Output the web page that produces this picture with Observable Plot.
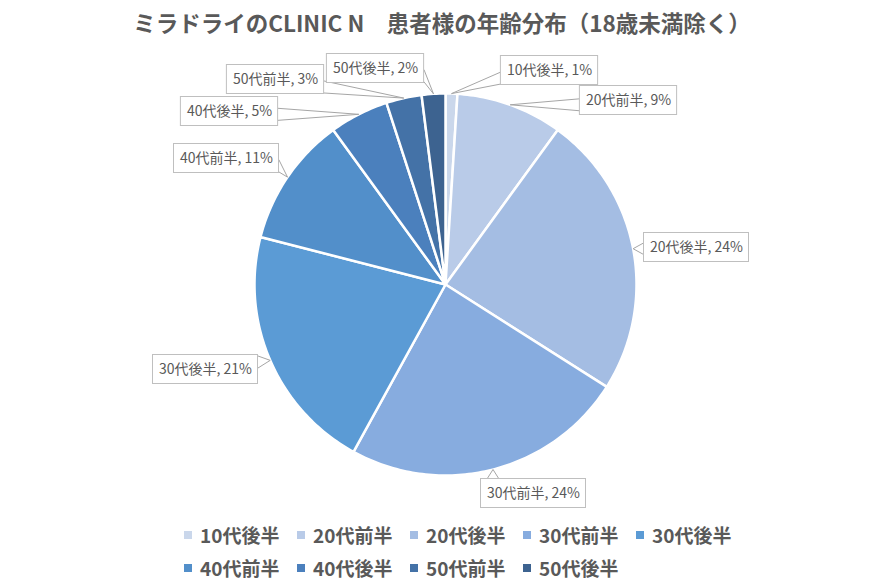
<!DOCTYPE html>
<html><head><meta charset="utf-8">
<script src="https://cdn.jsdelivr.net/npm/d3@7"></script>
<script src="https://cdn.jsdelivr.net/npm/@observablehq/plot@0.6"></script>
<style>
body{margin:0;background:#fff;font-family:'Noto Sans CJK JP',sans-serif;}
#wrap{position:relative;width:884px;height:588px;overflow:hidden;}
#title{position:absolute;top:0;left:0;width:884px;height:45px;line-height:45px;text-align:center;font-size:22.5px;font-weight:bold;color:#595959;white-space:pre;}
#chart{position:absolute;top:45px;left:0;}
#legend{position:absolute;top:518px;left:184px;width:580px;}
#legend .lg-swatches{display:flex !important;flex-wrap:wrap !important;min-height:0 !important;margin:0 !important;}
#legend .lg-swatch{width:113px !important;height:33px !important;margin:0 !important;display:inline-flex !important;align-items:center !important;font-size:19px !important;font-weight:bold !important;color:#595959 !important;font-family:'Noto Sans CJK JP',sans-serif !important;}
#legend .lg-swatch svg{margin-right:8px !important;}
</style></head>
<body><div id="wrap"><div id="title">ミラドライのCLINIC N　患者様の年齢分布（18歳未満除く）</div><div id="chart"></div><div id="legend"></div></div>
<script>
const categories = ["10代後半","20代前半","20代後半","30代前半","30代後半","40代前半","40代後半","50代前半","50代後半"];
const values = [1, 9, 24, 24, 21, 11, 5, 3, 2];
const colors = ["#cad7eb","#b9cbe8","#a4bde3","#87acdf","#5b9bd5","#528fca","#4b80bd","#4472a7","#3d6390"];

// layout (pixels relative to pie center)
const R = 191, W = 884, H = 470, CX = 445, CY = 239;
const labelOffset = [[104,-214],[183,-184],[251,-37],[88,209],[-240,85],[-219,-126],[-216,-173],[-170,-205],[-70,-216]];
const BOX_H = 29, PAD = 6, FONT = "14px 'Noto Sans CJK JP'";

const total = d3.sum(values);
const ctx = document.createElement("canvas").getContext("2d");
ctx.font = FONT;

// slice polygons
const slicePts = [];
let cum = 0;
const mids = [];
values.forEach((v, i) => {
  const a0 = cum / total * 2 * Math.PI;
  cum += v;
  const a1 = cum / total * 2 * Math.PI;
  mids.push((a0 + a1) / 2);
  const n = Math.max(2, Math.ceil((a1 - a0) / (Math.PI / 180)));
  slicePts.push({cat: categories[i], x: 0, y: 0});
  for (let k = 0; k <= n; k++) {
    const a = a0 + (a1 - a0) * k / n;
    slicePts.push({cat: categories[i], x: Math.sin(a), y: Math.cos(a)});
  }
  slicePts.push({cat: categories[i], x: 0, y: 0});
});

// labels, boxes, wedges
const labels = [], boxes = [], wedges = [];
categories.forEach((c, i) => {
  const text = `${c}, ${values[i]}%`;
  const w = ctx.measureText(text).width + 2 * PAD;
  const [lx, ly] = labelOffset[i];
  const x1 = lx - w / 2, x2 = lx + w / 2, y1 = ly - BOX_H / 2, y2 = ly + BOX_H / 2;
  const px = Math.sin(mids[i]) * R, py = -Math.cos(mids[i]) * R;
  const cl = (v, a, b) => Math.max(a, Math.min(b, v));
  let b1, b2;
  if (px < x1) { const cy = cl(py, y1 + 7, y2 - 7); b1 = [x1, cy - 6]; b2 = [x1, cy + 6]; }
  else if (px > x2) { const cy = cl(py, y1 + 7, y2 - 7); b1 = [x2, cy - 6]; b2 = [x2, cy + 6]; }
  else if (py > y2) { const cx = cl(px, x1 + 8, x2 - 8); b1 = [cx - 6, y2]; b2 = [cx + 6, y2]; }
  else { const cx = cl(px, x1 + 8, x2 - 8); b1 = [cx - 6, y1]; b2 = [cx + 6, y1]; }
  [b1, [px, py], b2].forEach(p => wedges.push({id: i, x: p[0] / R, y: -p[1] / R}));
  boxes.push({x1: x1 / R, x2: x2 / R, y1: -y1 / R, y2: -y2 / R});
  labels.push({x: lx / R, y: -ly / R, text});
});

const chart = Plot.plot({
  width: W, height: H, margin: 0,
  style: {fontFamily: "'Noto Sans CJK JP', sans-serif", background: "white"},
  x: {domain: [-CX / R, (W - CX) / R], axis: null},
  y: {domain: [-(H - CY) / R, CY / R], axis: null},
  color: {domain: categories, range: colors},
  marks: [
    Plot.line(slicePts, {x: "x", y: "y", z: "cat", fill: "cat", stroke: "white", strokeWidth: 2.5, strokeLinejoin: "round"}),
    Plot.line(wedges, {x: "x", y: "y", z: "id", fill: "white", stroke: "#a6a6a6", strokeWidth: 1}),
    Plot.rect(boxes, {x1: "x1", x2: "x2", y1: "y1", y2: "y2", fill: "white", stroke: "#bfbfbf", strokeWidth: 1}),
    Plot.text(labels, {x: "x", y: "y", text: "text", fontSize: 14, fill: "#595959"})
  ]
});
document.getElementById("chart").appendChild(chart);

const legend = Plot.legend({
  legend: "swatches",
  className: "lg",
  color: {domain: categories, range: colors, type: "ordinal"},
  swatchSize: 8
});
document.getElementById("legend").appendChild(legend);
</script>
</body></html>
